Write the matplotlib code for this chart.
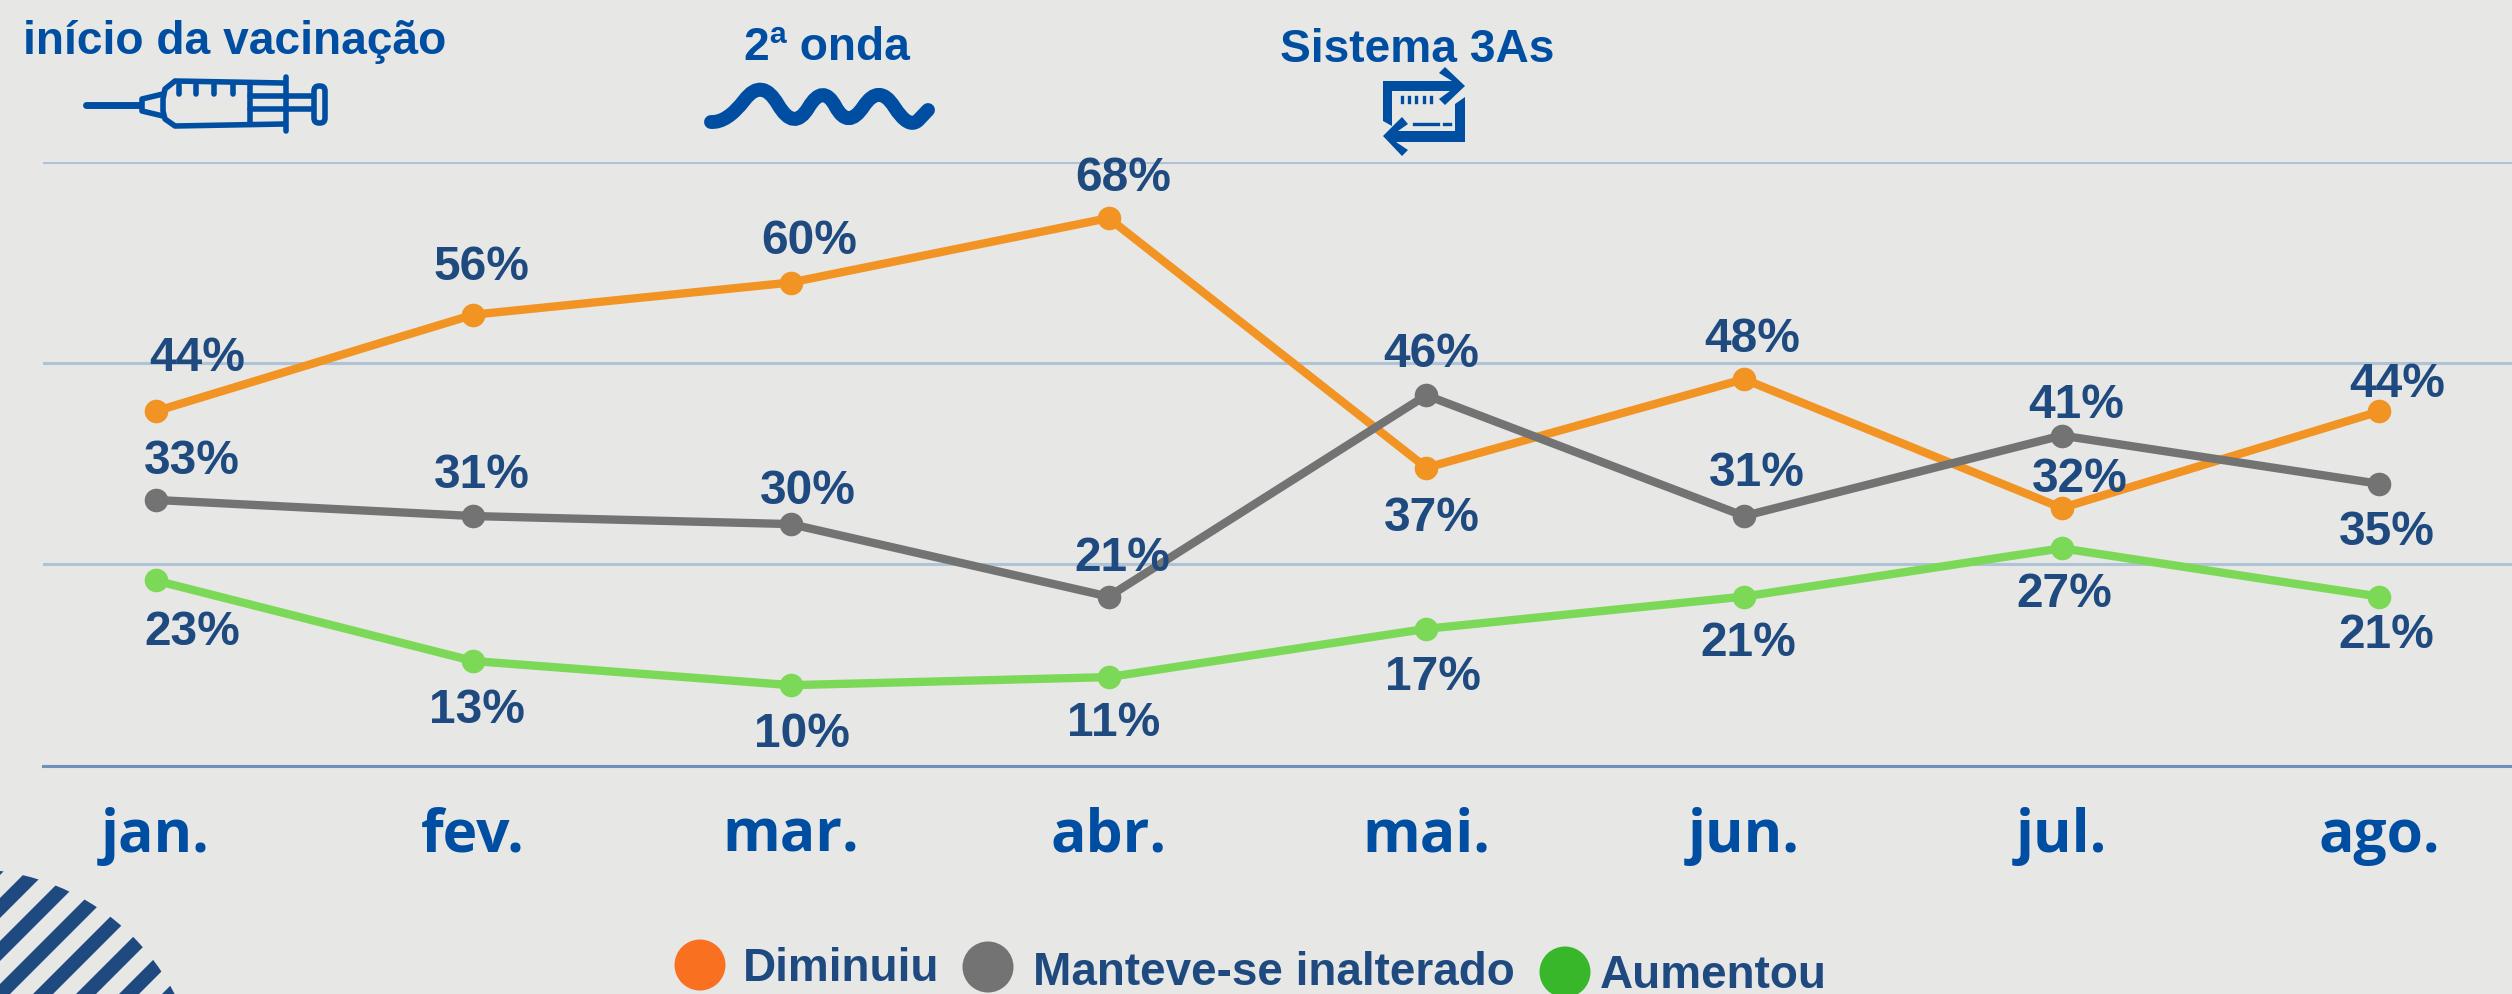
import numpy as np
import matplotlib
matplotlib.use('Agg')
from matplotlib import pyplot as plt
from matplotlib.patches import Circle, Polygon, FancyBboxPatch
from matplotlib.path import Path
from matplotlib.patches import PathPatch

months = ['jan.', 'fev.', 'mar.', 'abr.', 'mai.', 'jun.', 'jul.', 'ago.']
diminuiu = [44, 56, 60, 68, 37, 48, 32, 44]
manteve = [33, 31, 30, 21, 46, 31, 41, 35]
aumentou = [23, 13, 10, 11, 17, 21, 27, 21]
grid_values = [0, 25, 50, 75]

# label offsets from each point, in full size pixels
off_dim = [(42, 54), (8, 48), (18, 42), (15, 41), (6, -50), (8, 41), (18, 29), (18, 28)]
off_man = [(36, 39), (9, 42), (17, 34), (14, 39), (5, 42), (13, 44), (14, 31), (7, -48)]
off_aum = [(37, -51), (4, -48), (11, -48), (5, -45), (7, -48), (4, -46), (3, -45), (7, -38)]

BG = '#E7E7E5'
BLUE = '#004EA2'
NAVY = '#1F4A80'
W, H = 2512, 995

fig = plt.figure(figsize=(W / 100, H / 100), dpi=100, facecolor=BG)

# chart axes, the frame runs from the left margin to the image edge
ax = fig.add_axes([43 / W, 1 - 766.7 / H, 1 - 43 / W, (766.7 - 162.7) / H])
ax.set_facecolor('none')
ax.set_xlim((43 - 155.5) / 317.7, (W - 155.5) / 317.7)
ax.set_ylim(0, 75)
ax.set_yticks(grid_values)
ax.set_yticklabels([])
ax.set_xticks(range(len(months)))
ax.set_xticklabels(months, family='Open Sans', fontweight='bold', fontsize=42.3, color=BLUE)
ax.tick_params(length=0, pad=29)
ax.grid(axis='y', color='#AFC3D6', lw=2.2)
ax.set_axisbelow(True)
for s in ['top', 'left', 'right']:
    ax.spines[s].set_visible(False)
ax.spines['bottom'].set_color('#6F90B8')
ax.spines['bottom'].set_linewidth(2.2)

x = np.arange(len(months))
series = [(diminuiu, '#F29423', off_dim), (manteve, '#737373', off_man), (aumentou, '#7BD957', off_aum)]
for vals, col, offs in series:
    ax.plot(x, vals, color=col, lw=6, marker='o', ms=17, mew=0, clip_on=False)
    for i, v in enumerate(vals):
        ax.annotate(f'{v}%', (i, v), xytext=offs[i], textcoords='offset pixels',
                    ha='center', va='center', family='Liberation Sans', fontweight='bold',
                    fontsize=34.5, color=NAVY)

# overlay in image pixels for the icons, headings and legend
ov = fig.add_axes([0, 0, 1, 1])
ov.set_xlim(0, W)
ov.set_ylim(H, 0)
ov.axis('off')
ov.patch.set_alpha(0)


def txt(px, py, s, size, color=BLUE, ha='center'):
    ov.text(px, py, s, ha=ha, va='center', family='Liberation Sans', fontweight='bold',
            fontsize=size, color=color)


txt(235, 42, 'início da vacinação', 33.2)
txt(827, 48, '2ª onda', 33.2)
txt(1417, 50, 'Sistema 3As', 33.2)

# legend
for px, py, col in [(700, 966, '#F97120'), (988, 968, '#737373'), (1565, 973, '#38B72A')]:
    ov.add_patch(Circle((px, py), 25.5, color=col, lw=0))
txt(743, 969, 'Diminuiu', 33, NAVY, 'left')
txt(1033, 973, 'Manteve-se inalterado', 33, NAVY, 'left')
txt(1600, 976, 'Aumentou', 33, NAVY, 'left')

# syringe
sy = dict(color=BLUE, lw=4, solid_capstyle='round')
ov.plot([86, 140], [106, 106], color=BLUE, lw=5, solid_capstyle='round')
ov.plot([163, 142, 142, 163], [95, 100, 112, 117], **sy)
ov.plot([284, 175, 165, 163, 163, 165, 175, 284], [84, 82, 90, 100, 112, 120, 127, 125], **sy)
ov.plot([286, 286], [78, 132], **sy)
for tx in [179, 196, 214, 233]:
    ov.plot([tx, tx], [86, 95], **sy)
ov.plot([250, 250], [86, 124], **sy)
ov.plot([250, 311], [97, 97], **sy)
ov.plot([250, 311], [110, 110], **sy)
ov.add_patch(FancyBboxPatch((314, 87), 11, 37, boxstyle='round,pad=0,rounding_size=5',
                            fc='none', ec=BLUE, lw=4))

# wave
wx = np.array([711, 727, 762, 794, 823, 848, 879, 909, 928])
wy = np.array([123, 124, 78, 133, 84, 131, 84, 131, 111])
verts = [(wx[0], wy[0])]
codes = [Path.MOVETO]
for i in range(1, len(wx) - 1):
    verts += [(wx[i], wy[i]), ((wx[i] + wx[i + 1]) / 2, (wy[i] + wy[i + 1]) / 2)]
    codes += [Path.CURVE3, Path.CURVE3]
verts += [(wx[-1], wy[-1])]
codes += [Path.LINETO]
ov.add_patch(PathPatch(Path(verts, codes), fc='none', ec=BLUE, lw=10, capstyle='round', joinstyle='round'))

# arrows icon
ov.add_patch(Polygon([(1392, 127), (1383, 122), (1383, 82), (1452, 82), (1439, 74), (1445, 68), (1465, 87),
                      (1445, 106), (1439, 100), (1450, 92), (1392, 92)], color=BLUE, lw=0))
ov.add_patch(Polygon([(1455, 105), (1465, 98), (1465, 143), (1396, 143), (1408, 151), (1402, 157), (1383, 137),
                      (1402, 118), (1408, 125), (1398, 132), (1455, 132)], color=BLUE, lw=0))
for dx in [1402, 1409, 1416, 1424, 1431]:
    ov.plot([dx, dx], [98, 103], color=BLUE, lw=2.4)
ov.plot([1414, 1438], [125, 125], color=BLUE, lw=2.4)
ov.plot([1444, 1450], [125, 125], color=BLUE, lw=2.4)

# striped quarter circle in the bottom left corner
clip = Circle((-30, 1100), 230, transform=ov.transData)
for s in range(856, 1400, 43):
    stripe = Polygon([(s, 0), (s + 20, 0), (s + 20 - 1000, 1000), (s - 1000, 1000)], color=NAVY, lw=0)
    ov.add_patch(stripe)
    stripe.set_clip_path(clip)

fig.savefig('out.png', dpi=100, facecolor=BG)
